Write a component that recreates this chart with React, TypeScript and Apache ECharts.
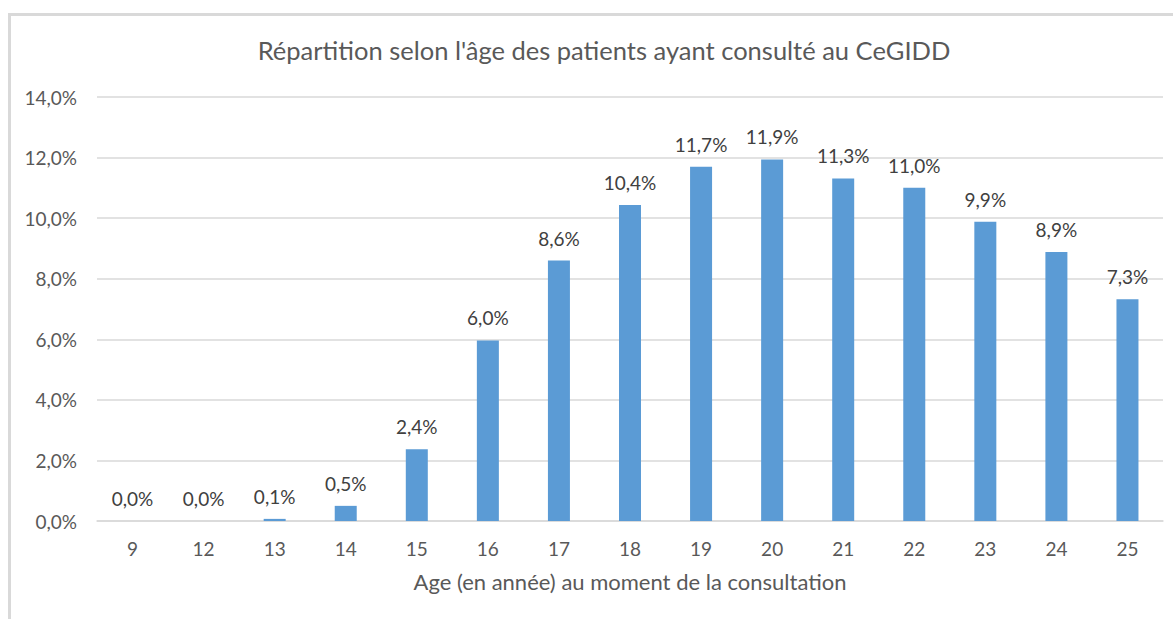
import React, { useEffect, useRef } from "react";
import * as echarts from "echarts";

const TITLE = "Répartition selon l'âge des patients ayant consulté au CeGIDD";
const X_NAME = "Age (en année) au moment de la consultation";
const AGES = ["9", "12", "13", "14", "15", "16", "17", "18", "19", "20", "21", "22", "23", "24", "25"];
const SHARES = [0.0, 0.0, 0.07, 0.5, 2.37, 5.96, 8.6, 10.43, 11.7, 11.94, 11.31, 11.0, 9.88, 8.88, 7.32];
const Y_TICKS_MAX = 14;
const Y_TICK_STEP = 2;

const fmt = (v: number) => v.toFixed(1).replace(".", ",") + "%";

export default function App() {
  const ref = useRef<HTMLDivElement>(null);
  useEffect(() => {
    if (!ref.current) return;
    const chart = echarts.init(ref.current, undefined, { renderer: "svg" });
    const font = "Lato, 'Open Sans', sans-serif";
    chart.setOption({
      animation: false,
      backgroundColor: "#ffffff",
      textStyle: { fontFamily: font },
      title: {
        text: TITLE,
        left: 599,
        top: 32,
        textAlign: "center",
        textStyle: { fontFamily: font, fontSize: 25.5, fontWeight: "normal", color: "#595959" },
      },
      graphic: [
        { type: "rect", shape: { x: 8, y: 13, width: 1165, height: 3 }, style: { fill: "#d9d9d9" }, silent: true },
        { type: "rect", shape: { x: 8, y: 13, width: 3, height: 606 }, style: { fill: "#d9d9d9" }, silent: true },
      ],
      grid: { left: 97, right: 10, top: 97, bottom: 98, containLabel: false },
      xAxis: {
        type: "category",
        data: AGES,
        name: X_NAME,
        nameLocation: "middle",
        nameGap: 49,
        nameTextStyle: { fontFamily: font, fontSize: 22, color: "#595959" },
        axisLine: { lineStyle: { color: "#d9d9d9", width: 1.5 } },
        axisTick: { show: false },
        axisLabel: { fontFamily: font, fontSize: 19, color: "#595959", margin: 18 },
      },
      yAxis: {
        type: "value",
        min: 0,
        max: Y_TICKS_MAX,
        interval: Y_TICK_STEP,
        axisLine: { show: false },
        axisTick: { show: false },
        splitLine: { lineStyle: { color: "#d9d9d9", width: 1.5 } },
        axisLabel: { fontFamily: font, fontSize: 19, color: "#595959", margin: 20, formatter: (v: number) => fmt(v) },
      },
      series: [
        {
          type: "bar",
          data: SHARES,
          barWidth: 22,
          itemStyle: { color: "#5b9bd5" },
          label: {
            show: true,
            position: "top",
            distance: 13,
            fontFamily: font,
            fontSize: 19,
            color: "#404040",
            formatter: (p: any) => fmt(p.value),
          },
        },
      ],
    });
    return () => chart.dispose();
  }, []);
  return (
    <div
      ref={ref}
      style={{ position: "fixed", left: 0, top: 0, width: 1173, height: 619, background: "#fff" }}
    />
  );
}
